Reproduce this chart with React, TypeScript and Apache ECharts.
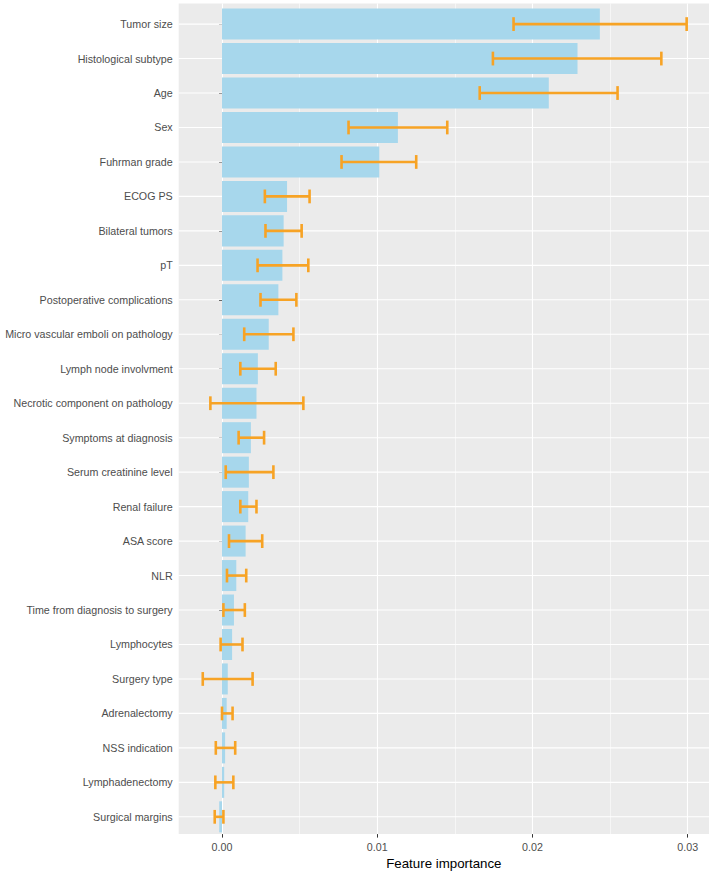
import React, { useEffect, useRef } from "react";
import * as echarts from "echarts";

const categories = [
  "Tumor size",
  "Histological subtype",
  "Age",
  "Sex",
  "Fuhrman grade",
  "ECOG PS",
  "Bilateral tumors",
  "pT",
  "Postoperative complications",
  "Micro vascular emboli on pathology",
  "Lymph node involvment",
  "Necrotic component on pathology",
  "Symptoms at diagnosis",
  "Serum creatinine level",
  "Renal failure",
  "ASA score",
  "NLR",
  "Time from diagnosis to surgery",
  "Lymphocytes",
  "Surgery type",
  "Adrenalectomy",
  "NSS indication",
  "Lymphadenectomy",
  "Surgical margins",
];

const importance = [
  0.02434, 0.0229, 0.02105, 0.01133, 0.01013, 0.00419, 0.00397, 0.00389,
  0.00363, 0.00301, 0.00231, 0.00222, 0.00186, 0.00173, 0.00169, 0.00152,
  0.00092, 0.00077, 0.00065, 0.00037, 0.0003, 0.0002, 0.00014, -0.00018,
];

const lower = [
  0.01878, 0.01745, 0.0166, 0.00815, 0.0077, 0.00276, 0.0028, 0.00229,
  0.00248, 0.00143, 0.00118, -0.00075, 0.00107, 0.00024, 0.00118, 0.00045,
  0.00032, 0.00009, -0.00009, -0.00124, 0.0, -0.0004, -0.00043, -0.00047,
];

const upper = [
  0.02993, 0.0283, 0.02548, 0.01451, 0.01251, 0.00564, 0.00513, 0.00556,
  0.00479, 0.0046, 0.00346, 0.00524, 0.00271, 0.00331, 0.00222, 0.00259,
  0.00156, 0.00147, 0.00132, 0.00197, 0.00068, 0.00085, 0.00073, 0.00009,
];

const X_MIN = -0.00279;
const X_MAX = 0.03137;

const FONT = "'Liberation Sans', Arial, Helvetica, sans-serif";

export default function App() {
  const ref = useRef<HTMLDivElement>(null);

  useEffect(() => {
    if (!ref.current) return;
    const chart = echarts.init(ref.current, undefined, { renderer: "svg" });

    const panelTop = 3.4;
    const panelBottom = 837.5;
    const band = (panelBottom - panelTop) / 24.2;
    const innerTop = panelTop + 0.1 * band;
    const innerBottom = panelBottom - 0.1 * band;

    const option: any = {
      animation: false,
      backgroundColor: "#ffffff",
      textStyle: { fontFamily: FONT },
      grid: [
        {
          left: 178.7,
          right: 3,
          top: panelTop,
          bottom: 875 - panelBottom,
          show: true,
          backgroundColor: "#EBEBEB",
          borderWidth: 0,
        },
        {
          left: 178.7,
          right: 3,
          top: innerTop,
          bottom: 875 - innerBottom,
        },
      ],
      xAxis: [
        {
          gridIndex: 0,
          type: "value",
          min: X_MIN,
          max: X_MAX,
          splitNumber: 4,
          axisLine: { show: false },
          axisTick: {
            show: true,
            length: 3.5,
            lineStyle: { color: "#333333", width: 1 },
          },
          axisLabel: {
            formatter: (v: number) => v.toFixed(2),
            showMinLabel: false,
            showMaxLabel: false,
            color: "#4D4D4D",
            fontSize: 10.7,
            fontFamily: FONT,
            margin: 7,
          },
          splitLine: {
            show: true,
            showMinLine: false,
            showMaxLine: false,
            lineStyle: { color: "#FFFFFF", width: 1.1 },
          },
          minorTick: { show: false, splitNumber: 2 },
          minorSplitLine: {
            show: true,
            lineStyle: { color: "#FFFFFF", width: 0.55 },
          },
          name: "Feature importance",
          nameLocation: "middle",
          nameGap: 19,
          nameTextStyle: {
            color: "#000000",
            fontSize: 13.3,
            fontFamily: FONT,
          },
        },
        {
          gridIndex: 1,
          type: "value",
          min: X_MIN,
          max: X_MAX,
          show: false,
          splitLine: { show: false },
        },
      ],
      yAxis: [
        {
          gridIndex: 0,
          type: "value",
          min: 0,
          max: 1,
          show: false,
          splitLine: { show: false },
        },
        {
          gridIndex: 1,
          type: "category",
          inverse: true,
          data: categories,
          axisLine: { show: false },
          axisTick: {
            show: true,
            alignWithLabel: true,
            length: 3,
            lineStyle: { color: "#333333", width: 1 },
          },
          axisLabel: {
            color: "#4D4D4D",
            fontSize: 10.7,
            fontFamily: FONT,
            margin: 6,
            interval: 0,
          },
          splitLine: { show: false },
        },
      ],
      series: [
        {
          type: "custom",
          name: "rows",
          xAxisIndex: 1,
          yAxisIndex: 1,
          z: 1,
          silent: true,
          data: categories.map((c) => [X_MIN, X_MAX, c]),
          encode: { x: [0, 1], y: 2 },
          renderItem: (params: any, api: any) => {
            const p1 = api.coord([X_MIN, params.dataIndex]);
            const p2 = api.coord([X_MAX, params.dataIndex]);
            return {
              type: "line",
              shape: { x1: p1[0], y1: p1[1], x2: p2[0], y2: p2[1] },
              style: { stroke: "#FFFFFF", lineWidth: 1.1 },
            };
          },
        },
        {
          type: "bar",
          name: "importance",
          xAxisIndex: 1,
          yAxisIndex: 1,
          z: 2,
          barWidth: "90%",
          data: importance,
          itemStyle: { color: "#A7D7EC" },
        },
        {
          type: "custom",
          name: "sd",
          xAxisIndex: 1,
          yAxisIndex: 1,
          z: 3,
          data: lower.map((l, i) => [l, upper[i], categories[i]]),
          encode: { x: [0, 1], y: 2 },
          renderItem: (params: any, api: any) => {
            const idx = params.dataIndex;
            const a = api.coord([api.value(0), idx]);
            const b = api.coord([api.value(1), idx]);
            const h = api.size([0, 1])[1] * 0.2;
            const style = {
              stroke: "#F7A325",
              lineWidth: 2.6,
              fill: "none",
            };
            return {
              type: "group",
              children: [
                {
                  type: "line",
                  shape: { x1: a[0], y1: a[1], x2: b[0], y2: b[1] },
                  style,
                },
                {
                  type: "line",
                  shape: { x1: a[0], y1: a[1] - h, x2: a[0], y2: a[1] + h },
                  style,
                },
                {
                  type: "line",
                  shape: { x1: b[0], y1: b[1] - h, x2: b[0], y2: b[1] + h },
                  style,
                },
              ],
            };
          },
        },
      ],
    };

    chart.setOption(option);
    return () => chart.dispose();
  }, []);

  return (
    <div
      ref={ref}
      style={{
        position: "fixed",
        left: 0,
        top: 0,
        width: 712,
        height: 875,
        background: "#ffffff",
      }}
    />
  );
}
